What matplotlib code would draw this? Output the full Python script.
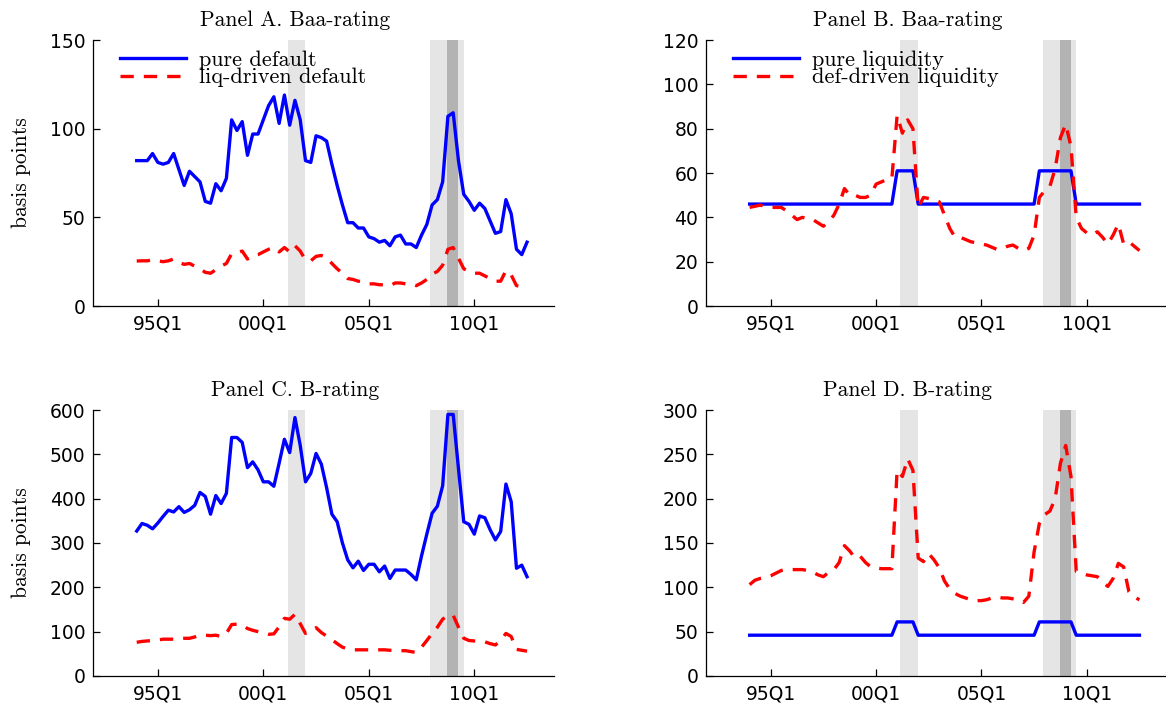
import matplotlib
matplotlib.use("Agg")
import matplotlib.pyplot as plt
import numpy as np

# ---------------- data (quarterly, 1994Q1 .. 2012Q3) ----------------
start_year = 1994
n_q = 75
quarters = [start_year + i / 4.0 for i in range(n_q)]

pure_default_baa = [82, 82, 82, 86, 81, 80, 81, 86, 77, 68,
                    76, 73, 70, 59, 58, 69, 65, 72, 105, 99,
                    104, 85, 97, 97, 105, 113, 118, 103, 119, 102,
                    116, 105, 82, 81, 96, 95, 93, 80, 68, 57,
                    47, 47, 44, 44, 39, 38, 36, 37, 34, 39,
                    40, 35, 35, 33, 40, 46, 57, 60, 70, 107,
                    109, 82, 63, 59, 54, 58, 55, 48, 41, 42,
                    60, 52, 32, 29, 36]
liq_driven_default_baa = [25.4, 25.5, 25.5, 26, 25.5, 25, 25.5, 26.5, 24.5, 23.5,
                          24, 22.5, 21, 19, 18.5, 20.5, 22.5, 24, 29.5, 30,
                          31, 26.5, 28.5, 29, 30.5, 32, 33, 30.5, 33, 30.5,
                          34, 31, 26, 25.5, 28, 28.5, 27.5, 24, 21, 18.5,
                          15.5, 15, 14, 13.5, 12.5, 12.5, 12, 12, 11.5, 13,
                          13, 12.5, 12.5, 11.5, 13, 15, 18, 19.5, 23, 32,
                          33, 27, 21, 19.5, 18.5, 18.5, 17, 15.5, 14, 14,
                          20, 17.5, 11.5, 11, 12]

pure_liquidity_baa = [46, 46, 46, 46, 46, 46, 46, 46, 46, 46,
                      46, 46, 46, 46, 46, 46, 46, 46, 46, 46,
                      46, 46, 46, 46, 46, 46, 46, 46, 61, 61,
                      61, 61, 46, 46, 46, 46, 46, 46, 46, 46,
                      46, 46, 46, 46, 46, 46, 46, 46, 46, 46,
                      46, 46, 46, 46, 46, 61, 61, 61, 61, 61,
                      61, 61, 46, 46, 46, 46, 46, 46, 46, 46,
                      46, 46, 46, 46, 46]
def_driven_liquidity_baa = [44.5, 45, 45.5, 45, 44.5, 44.5, 44.5, 43, 41, 39,
                            40, 39.5, 39, 37.5, 36, 38, 41, 46, 53, 50,
                            50, 49, 49, 50, 55, 56, 57, 57.5, 86, 78,
                            84, 80, 44.5, 49, 48.5, 48, 47, 41, 35, 31,
                            31, 30, 29, 28.5, 28, 27.5, 26.5, 25.5, 26, 27,
                            27.5, 26, 25, 26, 32, 49, 52, 54, 62, 76,
                            82, 72, 40, 35, 33, 32, 33.5, 31, 28, 32,
                            37, 28, 29, 27, 25]

pure_default_b = [327, 344, 340, 332, 345, 360, 374, 370, 382, 369,
                  375, 385, 414, 405, 365, 407, 389, 412, 538, 538,
                  527, 470, 483, 465, 438, 438, 428, 480, 534, 504,
                  583, 520, 438, 457, 502, 478, 425, 365, 348, 300,
                  262, 244, 259, 238, 252, 252, 235, 248, 220, 239,
                  239, 239, 229, 217, 271, 320, 367, 383, 429, 590,
                  590, 468, 348, 342, 320, 361, 357, 330, 307, 326,
                  433, 393, 243, 250, 224]
liq_driven_default_b = [76, 78, 79, 80, 81, 83, 83, 83, 84, 85,
                        85, 88, 92, 92, 91, 92, 89, 96, 116, 117,
                        115, 107, 103, 100, 97, 94, 95, 111, 130, 128,
                        139, 118, 96, 102, 109, 98, 90, 82, 73, 65,
                        61, 59, 59, 59, 59, 58, 59, 59, 58, 58,
                        57, 57, 55, 53, 65, 80, 96, 110, 128, 137,
                        137, 110, 85, 80, 79, 78, 77, 73, 70, 80,
                        96, 89, 60, 58, 56]

pure_liquidity_b = [46, 46, 46, 46, 46, 46, 46, 46, 46, 46,
                    46, 46, 46, 46, 46, 46, 46, 46, 46, 46,
                    46, 46, 46, 46, 46, 46, 46, 46, 61, 61,
                    61, 61, 46, 46, 46, 46, 46, 46, 46, 46,
                    46, 46, 46, 46, 46, 46, 46, 46, 46, 46,
                    46, 46, 46, 46, 46, 61, 61, 61, 61, 61,
                    61, 61, 46, 46, 46, 46, 46, 46, 46, 46,
                    46, 46, 46, 46, 46]
def_driven_liquidity_b = [103, 108, 110, 111, 113, 116, 119, 120, 120, 120,
                          120, 119, 117, 114, 112, 117, 120, 128, 147, 141,
                          133, 135, 128, 123, 122, 121, 121, 121, 232, 225,
                          245, 232, 133, 129, 138, 131, 122, 107, 98, 93,
                          90, 88, 86, 85, 85, 86, 88, 89, 88, 88,
                          87, 86, 83, 90, 140, 172, 182, 186, 200, 240,
                          260, 225, 118, 116, 114, 113, 112, 106, 101, 110,
                          127, 123, 95, 89, 86]

xtick_pos = [1995, 2000, 2005, 2010]
xtick_labels = ["95Q1", "00Q1", "05Q1", "10Q1"]

recessions = [(2001.15, 2001.97), (2007.92, 2009.50)]
crisis = [(2008.72, 2009.25)]

titles = ["Panel A. Baa-rating", "Panel B. Baa-rating",
          "Panel C. B-rating", "Panel D. B-rating"]

# ---------------- styling ----------------
SERIF = "cmr10"
TICKFONT = "DejaVu Sans"
BLUE = "#0000ff"
RED = "#ff0000"
LW = 2.4

fig = plt.figure(figsize=(11.66, 7.04), dpi=100)

positions = [[0.0798, 0.5653, 0.3950, 0.3778],
             [0.6055, 0.5653, 0.3945, 0.3778],
             [0.0798, 0.0398, 0.3950, 0.3778],
             [0.6055, 0.0398, 0.3945, 0.3778]]

panels = [
    (pure_default_baa, liq_driven_default_baa, ["pure default", "liq-driven default"],
     (0, 150), [0, 50, 100, 150], True, True),
    (pure_liquidity_baa, def_driven_liquidity_baa, ["pure liquidity", "def-driven liquidity"],
     (0, 120), [0, 20, 40, 60, 80, 100, 120], False, True),
    (pure_default_b, liq_driven_default_b, None,
     (0, 600), [0, 100, 200, 300, 400, 500, 600], True, False),
    (pure_liquidity_b, def_driven_liquidity_b, None,
     (0, 300), [0, 50, 100, 150, 200, 250, 300], False, False),
]

for k, (pos, (solid, dashed, labels, ylim, yticks, ylab, leg)) in enumerate(zip(positions, panels)):
    ax = fig.add_axes(pos)
    for (a, b) in recessions:
        ax.axvspan(a, b, color="#e5e5e5", lw=0, zorder=0)
    for (a, b) in crisis:
        ax.axvspan(a, b, color="#b3b3b3", lw=0, zorder=0.5)
    ax.plot(quarters, solid, color=BLUE, lw=LW, zorder=3,
            label=labels[0] if labels else None)
    ax.plot(quarters, dashed, color=RED, lw=LW, dashes=(4, 3), zorder=4,
            label=labels[1] if labels else None)

    ax.set_xlim(1991.93, 2013.76)
    ax.set_ylim(*ylim)
    ax.set_yticks(yticks)
    ax.set_xticks(xtick_pos)
    ax.set_xticklabels(xtick_labels)
    for s in ["top", "right"]:
        ax.spines[s].set_visible(False)
    for s in ["left", "bottom"]:
        ax.spines[s].set_linewidth(0.9)
        ax.spines[s].set_color("black")
    ax.tick_params(direction="in", length=5, width=0.9, labelsize=13.5, colors="black")
    ax.tick_params(axis="y", pad=5.5)
    ax.tick_params(axis="x", pad=6)
    for lab in ax.get_xticklabels() + ax.get_yticklabels():
        lab.set_fontfamily(TICKFONT)

    ax.set_title(titles[k], fontfamily=SERIF, fontsize=15.5, pad=10, x=0.438)

    if ylab:
        ax.set_ylabel("basis points", fontfamily=SERIF, fontsize=15.5)
        ax.yaxis.set_label_coords(-0.135, 0.5)

    if leg:
        ax.legend(loc="upper left", bbox_to_anchor=(0.058, 0.962), frameon=False,
                  prop={"family": SERIF, "size": 16}, handlelength=3.0,
                  handletextpad=0.55, labelspacing=-0.08, borderpad=0,
                  borderaxespad=0)

fig.savefig("out.png", dpi=100)
